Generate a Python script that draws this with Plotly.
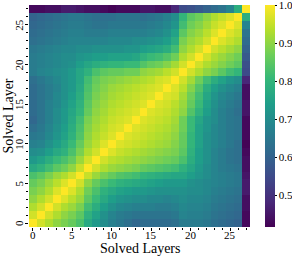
import plotly.graph_objects as go

layers = list(range(28))
tick_vals = [0, 5, 10, 15, 20, 25]
cbar_ticks = [0.5, 0.6, 0.7, 0.8, 0.9, 1.0]

# lower triangle of the (symmetric) similarity matrix: row i has cols 0..i
row00 = [1.00]
row01 = [0.96, 1.00]
row02 = [0.93, 0.96, 1.00]
row03 = [0.90, 0.93, 0.96, 1.00]
row04 = [0.88, 0.90, 0.93, 0.97, 1.00]
row05 = [0.86, 0.88, 0.91, 0.94, 0.97, 1.00]
row06 = [0.83, 0.85, 0.88, 0.91, 0.93, 0.96, 1.00]
row07 = [0.77, 0.79, 0.82, 0.85, 0.87, 0.90, 0.95, 1.00]
row08 = [0.73, 0.75, 0.78, 0.81, 0.83, 0.86, 0.91, 0.96, 1.00]
row09 = [0.70, 0.71, 0.74, 0.77, 0.79, 0.83, 0.88, 0.93, 0.96, 1.00]
row10 = [0.67, 0.68, 0.71, 0.74, 0.77, 0.81, 0.86, 0.91, 0.94, 0.97, 1.00]
row11 = [0.65, 0.66, 0.69, 0.72, 0.75, 0.79, 0.84, 0.90, 0.93, 0.95, 0.97, 1.00]
row12 = [0.63, 0.65, 0.68, 0.71, 0.74, 0.78, 0.83, 0.89, 0.92, 0.94, 0.96, 0.97, 1.00]
row13 = [0.61, 0.64, 0.67, 0.70, 0.73, 0.77, 0.82, 0.88, 0.91, 0.93, 0.95, 0.96, 0.97, 1.00]
row14 = [0.62, 0.64, 0.67, 0.70, 0.73, 0.76, 0.80, 0.86, 0.90, 0.92, 0.94, 0.95, 0.96, 0.97, 1.00]
row15 = [0.62, 0.64, 0.67, 0.69, 0.72, 0.75, 0.79, 0.85, 0.89, 0.91, 0.93, 0.94, 0.95, 0.96, 0.97, 1.00]
row16 = [0.62, 0.64, 0.66, 0.69, 0.71, 0.74, 0.78, 0.84, 0.88, 0.90, 0.92, 0.93, 0.94, 0.95, 0.96, 0.97, 1.00]
row17 = [0.62, 0.64, 0.66, 0.68, 0.71, 0.73, 0.77, 0.83, 0.87, 0.89, 0.91, 0.92, 0.93, 0.94, 0.95, 0.96, 0.97, 1.00]
row18 = [0.63, 0.65, 0.67, 0.69, 0.71, 0.73, 0.76, 0.82, 0.86, 0.88, 0.89, 0.90, 0.91, 0.92, 0.93, 0.94, 0.96, 0.97, 1.00]
row19 = [0.66, 0.68, 0.69, 0.70, 0.71, 0.73, 0.76, 0.79, 0.83, 0.85, 0.86, 0.86, 0.87, 0.87, 0.90, 0.91, 0.92, 0.94, 0.96, 1.00]
row20 = [0.66, 0.67, 0.68, 0.69, 0.70, 0.71, 0.74, 0.76, 0.78, 0.79, 0.80, 0.80, 0.81, 0.81, 0.84, 0.86, 0.87, 0.89, 0.92, 0.96, 1.00]
row21 = [0.66, 0.67, 0.68, 0.69, 0.70, 0.70, 0.72, 0.73, 0.74, 0.74, 0.75, 0.75, 0.75, 0.76, 0.79, 0.81, 0.82, 0.84, 0.87, 0.93, 0.96, 1.00]
row22 = [0.65, 0.66, 0.67, 0.68, 0.69, 0.69, 0.70, 0.70, 0.71, 0.71, 0.71, 0.71, 0.72, 0.72, 0.74, 0.75, 0.76, 0.78, 0.82, 0.90, 0.93, 0.96, 1.00]
row23 = [0.63, 0.64, 0.65, 0.66, 0.67, 0.68, 0.68, 0.68, 0.68, 0.68, 0.69, 0.69, 0.69, 0.70, 0.70, 0.71, 0.72, 0.74, 0.78, 0.88, 0.91, 0.93, 0.96, 1.00]
row24 = [0.62, 0.63, 0.64, 0.65, 0.66, 0.67, 0.67, 0.66, 0.66, 0.66, 0.67, 0.67, 0.67, 0.67, 0.67, 0.68, 0.69, 0.71, 0.75, 0.85, 0.89, 0.91, 0.94, 0.97, 1.00]
row25 = [0.61, 0.62, 0.63, 0.64, 0.65, 0.66, 0.66, 0.65, 0.64, 0.64, 0.65, 0.65, 0.65, 0.65, 0.65, 0.66, 0.67, 0.69, 0.72, 0.82, 0.87, 0.89, 0.92, 0.95, 0.97, 1.00]
row26 = [0.60, 0.61, 0.62, 0.63, 0.64, 0.65, 0.65, 0.64, 0.63, 0.63, 0.63, 0.64, 0.64, 0.64, 0.63, 0.64, 0.65, 0.67, 0.70, 0.80, 0.85, 0.87, 0.90, 0.93, 0.95, 0.97, 1.00]
row27 = [0.43, 0.43, 0.44, 0.44, 0.46, 0.46, 0.45, 0.44, 0.44, 0.43, 0.42, 0.43, 0.43, 0.43, 0.45, 0.45, 0.44, 0.44, 0.48, 0.55, 0.56, 0.58, 0.60, 0.62, 0.64, 0.68, 0.78, 1.00]

lower = [row00, row01, row02, row03, row04, row05, row06, row07, row08, row09,
         row10, row11, row12, row13, row14, row15, row16, row17, row18, row19,
         row20, row21, row22, row23, row24, row25, row26, row27]

z = [[lower[max(i, j)][min(i, j)] for j in layers] for i in layers]

FONT = "Liberation Serif"

fig = go.Figure(go.Heatmap(
    x=layers, y=layers, z=z,
    colorscale="Viridis", zmin=0.416, zmax=1.0,
    colorbar=dict(
        thickness=10, len=1.0, lenmode="fraction", y=0.5, yanchor="middle",
        x=1.068, xanchor="left", xpad=0, ypad=0,
        outlinewidth=0, tickvals=cbar_ticks,
        ticktext=[f"{v:.1f}" for v in cbar_ticks],
        ticklabeloverflow="allow",
        ticks="outside", ticklen=2, tickwidth=0.8, tickcolor="black",
        tickfont=dict(family=FONT, size=11, color="black"),
    ),
))

tick_annos = []
for v in tick_vals:
    tick_annos.append(dict(text=str(v), xref="x", yref="paper", x=v, y=0,
                           xanchor="center", yanchor="top", yshift=0,
                           showarrow=False, font=dict(family=FONT, size=11, color="black")))
    tick_annos.append(dict(text=str(v), xref="paper", yref="y", x=0, y=v,
                           xanchor="right", yanchor="middle", xshift=-2, textangle=-90,
                           showarrow=False, font=dict(family=FONT, size=11, color="black")))

fig.update_layout(
    width=292, height=256,
    margin=dict(l=29, r=42, t=5, b=29, autoexpand=False),
    paper_bgcolor="white", plot_bgcolor="white",
    font=dict(family=FONT, color="black"),
    annotations=tick_annos + [
        dict(text="Solved Layers", xref="paper", yref="paper", x=0.5, y=0,
             xanchor="center", yanchor="top", yshift=-12, showarrow=False,
             font=dict(family=FONT, size=14, color="black")),
        dict(text="Solved Layer", xref="paper", yref="paper", x=0, y=0.5,
             xanchor="right", yanchor="middle", xshift=-12, textangle=-90,
             showarrow=False, font=dict(family=FONT, size=14, color="black")),
    ],
)
fig.update_xaxes(
    range=[-0.5, 27.5], tickvals=tick_vals, showgrid=False, zeroline=False,
    showticklabels=False,
    ticks="outside", ticklen=3, tickwidth=0.8, tickcolor="black",
    minor=dict(dtick=1, tick0=0, ticks="outside", ticklen=2, tickwidth=0.6, tickcolor="black", showgrid=False),
)
fig.update_yaxes(
    range=[-0.5, 27.5], tickvals=tick_vals, showgrid=False, zeroline=False,
    showticklabels=False,
    ticks="outside", ticklen=3, tickwidth=0.8, tickcolor="black",
    minor=dict(dtick=1, tick0=0, ticks="outside", ticklen=2, tickwidth=0.6, tickcolor="black", showgrid=False),
)

fig.write_html("out.html", config={"displayModeBar": False},
               post_script="document.body.style.margin='0';")
